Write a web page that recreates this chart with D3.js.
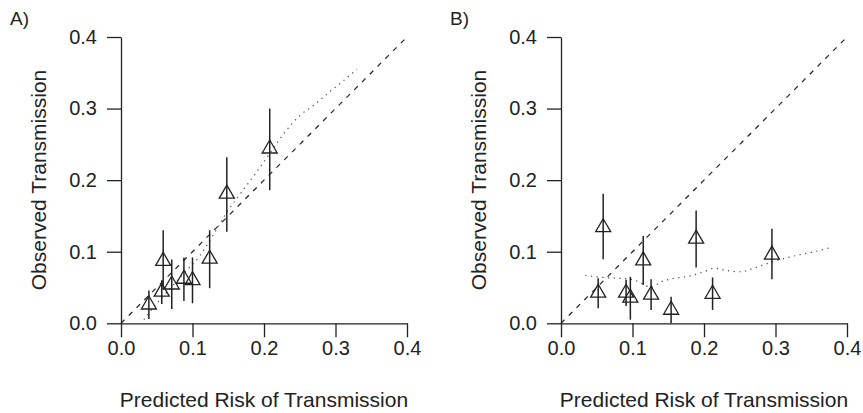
<!DOCTYPE html>
<html lang="en">
<head>
    <meta charset="UTF-8">
    <title>Calibration plots</title>
    <script src="https://d3js.org/d3.v7.min.js"></script>
    <style>
        body { margin: 0; background: #fff; }
        text { font-family: "Liberation Sans", Arial, sans-serif; fill: #222; }
    </style>
</head>
<body>
    <svg id="chart" width="863" height="413"></svg>

    <script>
        // axis ticks (same on both panels)
        const tickVals = [0, 0.1, 0.2, 0.3, 0.4];

        // panel A: grouped predicted risk vs observed transmission
        const aPred = [0.039, 0.057, 0.059, 0.071, 0.088, 0.100, 0.124, 0.148, 0.208];
        const aObs  = [0.026, 0.044, 0.087, 0.054, 0.062, 0.060, 0.090, 0.181, 0.244];
        const aLow  = [0.006, 0.027, 0.047, 0.020, 0.031, 0.028, 0.049, 0.128, 0.186];
        const aHigh = [0.046, 0.060, 0.130, 0.089, 0.092, 0.092, 0.130, 0.232, 0.300];
        // smoothed curve A
        const aSmoothX = [0.032, 0.05, 0.07, 0.09, 0.11, 0.13, 0.15, 0.17, 0.19, 0.21, 0.23, 0.25, 0.27, 0.29, 0.31, 0.33];
        const aSmoothY = [0.005, 0.028, 0.050, 0.072, 0.094, 0.125, 0.158, 0.185, 0.212, 0.240, 0.268, 0.290, 0.305, 0.322, 0.338, 0.355];

        // panel B
        const bPred = [0.052, 0.059, 0.091, 0.097, 0.115, 0.126, 0.154, 0.189, 0.212, 0.295];
        const bObs  = [0.0425, 0.134, 0.0425, 0.0355, 0.0877, 0.0397, 0.0187, 0.118, 0.041, 0.0957];
        const bLow  = [0.021, 0.0895, 0.024, 0.005, 0.0535, 0.0186, 0.0, 0.078, 0.0186, 0.0615];
        const bHigh = [0.063, 0.181, 0.061, 0.065, 0.122, 0.0615, 0.037, 0.1575, 0.064, 0.132];
        const bSmoothX = [0.034, 0.06, 0.08, 0.10, 0.115, 0.125, 0.14, 0.16, 0.18, 0.20, 0.215, 0.23, 0.25, 0.27, 0.29, 0.31, 0.33, 0.35, 0.374];
        const bSmoothY = [0.067, 0.064, 0.063, 0.061, 0.055, 0.050, 0.058, 0.063, 0.066, 0.072, 0.077, 0.074, 0.072, 0.077, 0.084, 0.090, 0.095, 0.099, 0.105];

        const svg = d3.select("#chart");
        const ink = "#222";

        // triangle like R pch=2, centred on the point
        const u = 5.57;
        const tri = `M0,${-1.555 * u}L${1.347 * u},${0.778 * u}L${-1.347 * u},${0.778 * u}Z`;

        function panel(left, label, pred, obs, lo, hi, sx, sy) {
            const x = d3.scaleLinear().domain([0, 0.4]).range([left, left + 286]);
            const y = d3.scaleLinear().domain([0, 0.4]).range([323.3, 37]);
            const g = svg.append("g");

            const xAxis = g.append("g")
                .attr("transform", "translate(0,323.3)")
                .call(d3.axisBottom(x).tickValues(tickVals).tickFormat(d3.format(".1f"))
                    .tickSize(14).tickSizeOuter(0).tickPadding(4));
            const yAxis = g.append("g")
                .attr("transform", `translate(${left},0)`)
                .call(d3.axisLeft(y).tickValues(tickVals).tickFormat(d3.format(".1f"))
                    .tickSize(14).tickSizeOuter(0).tickPadding(10));
            [xAxis, yAxis].forEach(ax => {
                ax.selectAll("path, line").attr("stroke", ink).attr("stroke-width", 1.3);
                ax.selectAll("text").style("font-size", "20px").attr("fill", ink)
                    .style("font-family", "'Liberation Sans', Arial, sans-serif");
            });

            // identity line
            g.append("line")
                .attr("x1", x(0)).attr("y1", y(0)).attr("x2", x(0.4)).attr("y2", y(0.4))
                .attr("stroke", ink).attr("stroke-width", 1.2)
                .attr("stroke-dasharray", "5,6");

            // smoothed curve
            g.append("path")
                .datum(sx.map((d, i) => [d, sy[i]]))
                .attr("d", d3.line().x(d => x(d[0])).y(d => y(d[1])).curve(d3.curveMonotoneX))
                .attr("fill", "none").attr("stroke", "#444").attr("stroke-width", 1.2)
                .attr("stroke-dasharray", "1.2,4.5");

            // error bars
            g.selectAll(".bar").data(pred).enter().append("line")
                .attr("x1", d => x(d)).attr("x2", d => x(d))
                .attr("y1", (d, i) => y(lo[i])).attr("y2", (d, i) => y(hi[i]))
                .attr("stroke", ink).attr("stroke-width", 1.5);

            // triangles
            g.selectAll(".pt").data(pred).enter().append("path")
                .attr("d", tri)
                .attr("transform", (d, i) => `translate(${x(d)},${y(obs[i])})`)
                .attr("fill", "none").attr("stroke", ink).attr("stroke-width", 1.3);

            g.append("text")
                .attr("x", left + 143).attr("y", 406.7)
                .attr("text-anchor", "middle")
                .style("font-size", "21px")
                .text("Predicted Risk of Transmission");

            g.append("text")
                .attr("transform", `translate(${left - 75.5},180) rotate(-90)`)
                .attr("text-anchor", "middle")
                .style("font-size", "21px")
                .text("Observed Transmission");

            g.append("text")
                .attr("x", left - 111).attr("y", 25)
                .style("font-size", "19px")
                .text(label);
        }

        panel(121, "A)", aPred, aObs, aLow, aHigh, aSmoothX, aSmoothY);
        panel(561, "B)", bPred, bObs, bLow, bHigh, bSmoothX, bSmoothY);
    </script>
</body>
</html>
